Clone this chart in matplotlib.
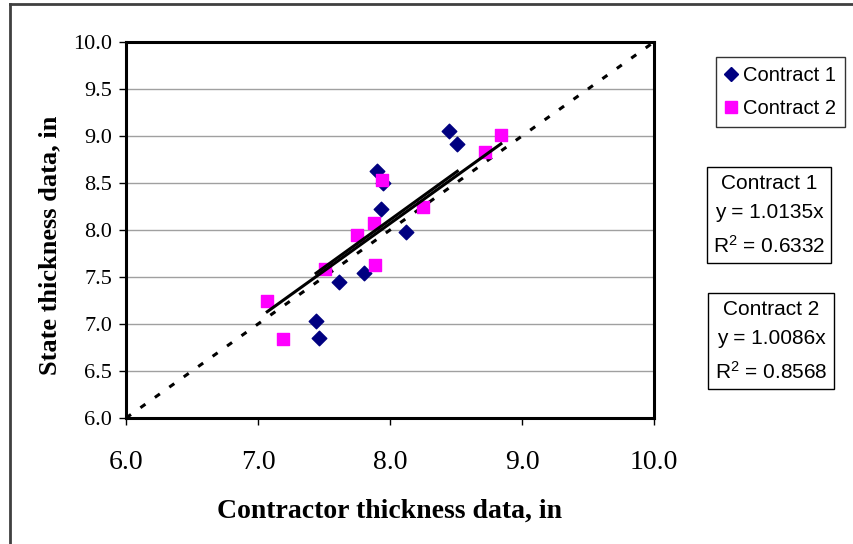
import numpy as np
import matplotlib.pyplot as plt
from matplotlib.lines import Line2D

# Data
c1_x = [8.45, 8.51, 7.90, 7.95, 7.93, 8.12, 7.80, 7.61, 7.44, 7.46]
c1_y = [9.05, 8.92, 8.63, 8.50, 8.22, 7.98, 7.54, 7.45, 7.03, 6.85]
c2_x = [8.84, 8.72, 7.94, 8.25, 7.88, 7.75, 7.89, 7.51, 7.07, 7.19]
c2_y = [9.01, 8.83, 8.53, 8.24, 8.07, 7.95, 7.63, 7.58, 7.24, 6.84]
slope1, r2_1 = 1.0135, 0.6332
slope2, r2_2 = 1.0086, 0.8568

W, H = 854, 544
fig = plt.figure(figsize=(W / 100, H / 100), dpi=100)
ax = fig.add_axes([126 / W, 1 - 418 / H, (654 - 126) / W, (418 - 42) / H])

# grid lines (horizontal only)
for yv in np.arange(6.5, 10.0, 0.5):
    ax.axhline(yv, color='#a0a0a0', lw=1.0, zorder=0)

# 1:1 line
ax.plot([6, 10], [6, 10], color='black', lw=2.2, ls=(0, (2, 3.8)), zorder=2)

# scatter
ax.scatter(c1_x, c1_y, marker='D', s=55, color='#000080', zorder=3, label='Contract 1')
ax.scatter(c2_x, c2_y, marker='s', s=72, color='#ff00ff', zorder=3, label='Contract 2')

# trendlines through origin
for xs, k in [(c1_x, slope1), (c2_x, slope2)]:
    xr = np.array([min(xs), max(xs)])
    ax.plot(xr, k * xr, color='black', lw=2.2, zorder=4)

ax.set_xlim(6, 10)
ax.set_ylim(6, 10)
ax.set_xticks(np.arange(6, 10.01, 1.0))
ax.set_yticks(np.arange(6, 10.01, 0.5))
ax.set_xticklabels([f'{v:.1f}' for v in np.arange(6, 10.01, 1.0)],
                   fontfamily='Liberation Serif', fontsize=20)
ax.set_yticklabels([f'{v:.1f}' for v in np.arange(6, 10.01, 0.5)],
                   fontfamily='Liberation Serif', fontsize=16)
ax.tick_params(axis='x', length=5, width=1, pad=18)
ax.tick_params(axis='y', length=5, width=1, pad=5)
for sp in ax.spines.values():
    sp.set_linewidth(2.2)
    sp.set_color('black')

ax.set_xlabel('Contractor thickness data, in', fontfamily='Liberation Serif',
              fontweight='bold', fontsize=20, labelpad=17)
ax.set_ylabel('State thickness data, in', fontfamily='Liberation Serif',
              fontweight='bold', fontsize=19)
ax.yaxis.set_label_coords(-0.122, 0.46)

# legend
handles = [Line2D([], [], marker='D', ls='', color='#000080', markersize=7),
           Line2D([], [], marker='s', ls='', color='#ff00ff', markersize=9)]
leg = fig.legend(handles, ['Contract 1', 'Contract 2'], loc='upper right',
                 bbox_to_anchor=(845 / W, 1 - 57 / H), frameon=True, fancybox=False,
                 prop={'family': 'Liberation Sans', 'size': 14.5},
                 handlelength=0.6, handletextpad=0.3, borderpad=0.45,
                 labelspacing=0.7, borderaxespad=0)
leg.get_frame().set_edgecolor('black')
leg.get_frame().set_linewidth(1.0)

# equation boxes
box = dict(boxstyle='square,pad=0.3', fc='white', ec='black', lw=1.0)
fig.text(769 / W, 1 - 215 / H,
         f'Contract 1\ny = {slope1:.4f}x\n$\\mathregular{{R^2}}$ = {r2_1:.4f}',
         ha='center', va='center', fontfamily='Liberation Sans', fontsize=15,
         linespacing=1.7, bbox=box)
fig.text(771 / W, 1 - 341 / H,
         f'Contract 2\ny = {slope2:.4f}x\n$\\mathregular{{R^2}}$ = {r2_2:.4f}',
         ha='center', va='center', fontfamily='Liberation Sans', fontsize=15,
         linespacing=1.7, bbox=box)

# outer chart border (left and top visible)
fig.add_artist(Line2D([10 / W, 10 / W], [0, 1 - 4 / H], color='#404040', lw=2))
fig.add_artist(Line2D([10 / W, 1], [1 - 4 / H, 1 - 4 / H], color='#404040', lw=2))

fig.savefig('out.png', dpi=100)
